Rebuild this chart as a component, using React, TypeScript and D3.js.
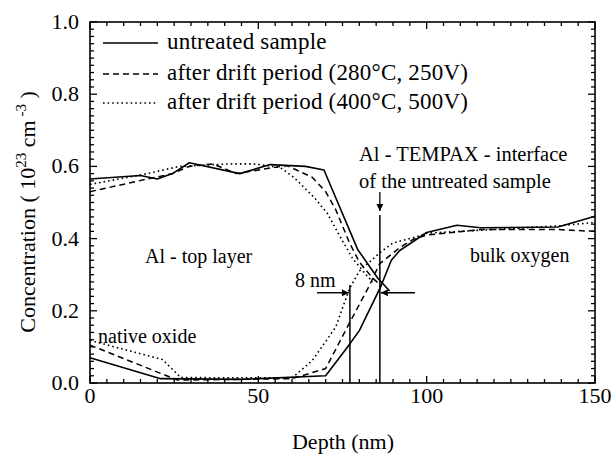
import React from "react";
import * as d3 from "d3";

// ---- data ----
const alSolidX = [0, 15, 20, 24.5, 29.5, 44.5, 53.5, 64, 69.5, 79.5, 85.5, 89];
const alSolidY = [0.565, 0.575, 0.565, 0.58, 0.61, 0.58, 0.605, 0.6, 0.59, 0.37, 0.29, 0.255];

const alDashX = [0, 17, 24.5, 29.5, 36.5, 43.5, 54.5, 58.5, 66, 70, 73, 77, 80, 84, 86.5];
const alDashY = [0.53, 0.565, 0.58, 0.6, 0.607, 0.58, 0.597, 0.602, 0.57, 0.53, 0.48, 0.39, 0.335, 0.29, 0.27];

const alDotX = [0, 17, 26.5, 41.5, 48.5, 56.5, 60.5, 66.5, 70.5, 74, 78, 82, 84];
const alDotY = [0.55, 0.58, 0.6, 0.607, 0.607, 0.597, 0.57, 0.515, 0.47, 0.41, 0.345, 0.3, 0.28];

const oSolidX = [0, 21, 45, 70, 76.5, 80, 86.5, 89.5, 92, 100, 109, 116, 139, 150];
const oSolidY = [0.07, 0.012, 0.01, 0.02, 0.1, 0.145, 0.27, 0.34, 0.367, 0.417, 0.437, 0.43, 0.432, 0.462];

const oDashX = [0, 26, 60, 70, 77, 83, 86, 92, 96, 100, 116, 139, 150];
const oDashY = [0.105, 0.008, 0.012, 0.04, 0.165, 0.27, 0.33, 0.375, 0.398, 0.41, 0.425, 0.425, 0.42];

const oDotX = [0, 21.5, 27, 60, 66, 73, 77, 80, 86, 90, 97, 100, 139, 150];
const oDotY = [0.118, 0.065, 0.015, 0.014, 0.062, 0.155, 0.26, 0.31, 0.36, 0.388, 0.405, 0.415, 0.435, 0.445];

const xTickLabels = [0, 50, 100, 150];
const yTickLabels = [0.0, 0.2, 0.4, 0.6, 0.8, 1.0];

const legendLabels = [
  "untreated sample",
  "after drift period (280°C, 250V)",
  "after drift period (400°C, 500V)",
];

const interfaceLine = 86.1;
const shiftedLine = 77.2;
const interfaceValueArrowY = 0.25;

export default function App() {
  const W = 613, H = 455;
  const x = d3.scaleLinear().domain([0, 150]).range([90, 595]);
  const y = d3.scaleLinear().domain([0, 1]).range([383, 22]);
  const line = d3
    .line<[number, number]>()
    .x((d) => x(d[0]))
    .y((d) => y(d[1]));
  const zip = (a: number[], b: number[]) => a.map((v, i) => [v, b[i]] as [number, number]);

  const font = "'Liberation Serif', 'Times New Roman', serif";
  const styles = [
    { dash: undefined as string | undefined, w: 1.6 },
    { dash: "6,4", w: 1.5 },
    { dash: "1.6,3", w: 1.6 },
  ];
  const series = [
    { d: zip(alSolidX, alSolidY), s: 0 },
    { d: zip(alDashX, alDashY), s: 1 },
    { d: zip(alDotX, alDotY), s: 2 },
    { d: zip(oSolidX, oSolidY), s: 0 },
    { d: zip(oDashX, oDashY), s: 1 },
    { d: zip(oDotX, oDotY), s: 2 },
  ];

  const xMinor = d3.range(0, 150.01, 5);
  const yMinor = d3.range(0, 1.0001, 0.02);
  const [x0, x1] = x.range();
  const [y0, y1] = y.range();

  return (
    <svg
      width={W}
      height={H}
      style={{ position: "absolute", left: 0, top: 0, background: "#fff" }}
      fontFamily={font}
    >
      <defs>
        <marker id="ah" viewBox="0 0 10 10" refX="10" refY="5" markerWidth="9" markerHeight="7" orient="auto-start-reverse" markerUnits="userSpaceOnUse">
          <path d="M0,0 L10,5 L0,10 z" fill="#000" />
        </marker>
      </defs>

      {/* ticks */}
      {xMinor.map((v) => {
        const major = v % 50 === 0;
        const len = major ? 7 : 4;
        return (
          <g key={"xt" + v} stroke="#000" strokeWidth={1.3}>
            <line x1={x(v)} x2={x(v)} y1={y0} y2={y0 - len} />
            <line x1={x(v)} x2={x(v)} y1={y1} y2={y1 + len} />
          </g>
        );
      })}
      {yMinor.map((v, i) => {
        const major = i % 10 === 0;
        const len = major ? 7 : 4;
        return (
          <g key={"yt" + i} stroke="#000" strokeWidth={1.3}>
            <line x1={x0} x2={x0 + len} y1={y(v)} y2={y(v)} />
            <line x1={x1} x2={x1 - len} y1={y(v)} y2={y(v)} />
          </g>
        );
      })}

      {/* frame */}
      <rect x={x0} y={y1} width={x1 - x0} height={y0 - y1} fill="none" stroke="#000" strokeWidth={1.6} />

      {/* tick labels */}
      {xTickLabels.map((v) => (
        <text key={"xl" + v} x={x(v)} y={403} fontSize={22} textAnchor="middle">
          {v}
        </text>
      ))}
      {yTickLabels.map((v) => (
        <text key={"yl" + v} x={79} y={y(v) + 7} fontSize={22} textAnchor="end">
          {v.toFixed(1)}
        </text>
      ))}

      {/* axis titles */}
      <text x={343} y={449} fontSize={22} textAnchor="middle">
        Depth (nm)
      </text>
      <text transform="translate(35,212) rotate(-90)" fontSize={22} textAnchor="middle">
        Concentration ( 10
        <tspan dy={-9} fontSize={15}>23</tspan>
        <tspan dy={9}> cm</tspan>
        <tspan dy={-9} fontSize={15}> -3</tspan>
        <tspan dy={9}> )</tspan>
      </text>

      {/* curves */}
      {series.map((s, i) => (
        <path
          key={"s" + i}
          d={line(s.d) || ""}
          fill="none"
          stroke="#000"
          strokeWidth={styles[s.s].w}
          strokeDasharray={styles[s.s].dash}
          strokeLinejoin="round"
        />
      ))}

      {/* legend */}
      {legendLabels.map((t, i) => {
        const ly = [43, 74, 103][i];
        return (
          <g key={"lg" + i}>
            <line x1={103} x2={158} y1={ly} y2={ly} stroke="#000" strokeWidth={styles[i].w} strokeDasharray={styles[i].dash} />
            <text x={167} y={ly + 6} fontSize={23} letterSpacing={0.2}>
              {t}
            </text>
          </g>
        );
      })}

      {/* annotations */}
      <text x={145} y={263} fontSize={20}>Al - top layer</text>
      <text x={470} y={262} fontSize={20}>bulk oxygen</text>
      <text x={98} y={343} fontSize={20}>native oxide</text>
      <text x={359} y={161} fontSize={20.5}>Al - TEMPAX - interface</text>
      <text x={359} y={188} fontSize={20.5}>of the untreated sample</text>
      <text x={295} y={287} fontSize={20}>8 nm</text>

      {/* vertical marker lines */}
      <line x1={x(interfaceLine)} x2={x(interfaceLine)} y1={192} y2={211} stroke="#000" strokeWidth={1.3} markerEnd="url(#ah)" />
      <line x1={x(interfaceLine)} x2={x(interfaceLine)} y1={215} y2={y0} stroke="#000" strokeWidth={1.5} />
      <line x1={x(shiftedLine)} x2={x(shiftedLine)} y1={285} y2={y0} stroke="#000" strokeWidth={1.5} />

      {/* 8 nm arrows */}
      <line x1={317} x2={x(shiftedLine) - 1} y1={y(interfaceValueArrowY)} y2={y(interfaceValueArrowY)} stroke="#000" strokeWidth={1.4} markerEnd="url(#ah)" />
      <line x1={415} x2={x(interfaceLine) + 1} y1={y(interfaceValueArrowY)} y2={y(interfaceValueArrowY)} stroke="#000" strokeWidth={1.4} markerEnd="url(#ah)" />
    </svg>
  );
}
